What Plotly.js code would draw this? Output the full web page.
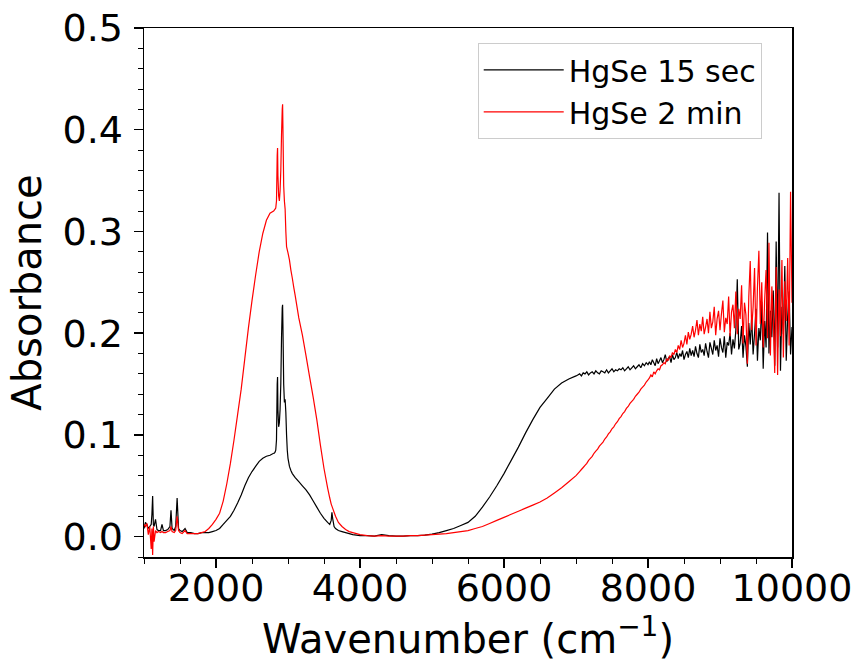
<!DOCTYPE html>
<html>
<head>
<meta charset="utf-8">
<script src="https://cdn.plot.ly/plotly-3.0.1.min.js"></script>
<style>html,body{margin:0;padding:0;background:#fff;}#chart{width:858px;height:662px;}</style>
</head>
<body>
<div id="chart"></div>
<script>
// ---- Data (wavenumber in cm^-1, absorbance) ----
// Low-wavenumber region with sharp bands
const wnLow = [1000,1020,1040,1060,1080,1100,1110,1120,1130,1140,1160,1180,1200,1230,1250,1270,1300,1330,1360,1375,1390,1420,1440,1460,1480,1500,1530,1570,1600,1650,1700,1750,1800];
const abs15Low = [0.008,0.014,0.012,0.008,0.010,0.012,0.022,0.040,0.012,0.010,0.017,0.007,0.006,0.006,0.012,0.006,0.006,0.007,0.010,0.026,0.008,0.006,0.010,0.038,0.008,0.006,0.005,0.008,0.004,0.004,0.003,0.003,0.004];
const abs2Low = [0.012,0.010,0.013,0.002,0.010,-0.012,0.008,-0.018,0.010,-0.005,0.006,0.004,0.005,0.004,0.005,0.004,0.004,0.005,0.006,0.010,0.005,0.004,0.006,0.020,0.006,0.004,0.003,0.006,0.003,0.003,0.003,0.003,0.004];

// Rising edge of the mid-IR band
const wnRise = [1850,1900,1950,2000,2050,2100,2150,2200,2250,2300,2350,2400,2450,2500,2550,2600,2650,2700,2750,2800];
const abs15Rise = [0.004,0.004,0.005,0.006,0.008,0.012,0.016,0.020,0.026,0.033,0.041,0.050,0.058,0.064,0.069,0.074,0.077,0.079,0.080,0.082];
const abs2Rise = [0.005,0.008,0.012,0.017,0.023,0.035,0.052,0.072,0.095,0.120,0.145,0.175,0.205,0.232,0.257,0.280,0.298,0.311,0.318,0.320];

// C-H stretch peaks
const wnPeak = [2810,2820,2830,2840,2850,2855,2860,2870,2880,2890,2900,2910,2920,2925,2930,2940,2950,2960,2970,2980,2990,3000,3020,3040,3060,3080,3100];
const abs15Peak = [0.082,0.083,0.085,0.095,0.150,0.157,0.125,0.108,0.112,0.125,0.150,0.195,0.225,0.228,0.205,0.150,0.132,0.135,0.122,0.100,0.085,0.077,0.069,0.065,0.062,0.060,0.058];
const abs2Peak = [0.321,0.322,0.323,0.330,0.375,0.382,0.355,0.335,0.330,0.340,0.360,0.395,0.420,0.425,0.400,0.345,0.330,0.322,0.300,0.285,0.282,0.279,0.272,0.262,0.254,0.245,0.237];

// Falling edge
const wnFall = [3150,3200,3250,3300,3350,3400,3450,3500,3550,3580,3600,3610,3620,3640,3660,3700,3750,3800,3850,3900,3950,4000];
const abs15Fall = [0.054,0.050,0.046,0.041,0.035,0.029,0.023,0.018,0.014,0.012,0.016,0.024,0.018,0.010,0.008,0.006,0.005,0.004,0.003,0.002,0.0015,0.001];
const abs2Fall = [0.215,0.198,0.178,0.157,0.137,0.115,0.090,0.067,0.048,0.038,0.032,0.030,0.028,0.024,0.020,0.014,0.010,0.007,0.005,0.004,0.003,0.002];

// Baseline and interband absorption edge
const wnEdge = [4100,4200,4300,4400,4500,4600,4700,4800,4900,5000,5100,5200,5300,5400,5500,5600,5700,5800,5900,6000,6100,6200,6300,6400,6500,6600,6700,6800,6900,7000];
const abs15Edge = [0.001,0.0005,0.002,0.001,0.0005,0.0005,0.001,0.001,0.0015,0.0025,0.004,0.006,0.008,0.011,0.014,0.020,0.029,0.039,0.050,0.062,0.075,0.088,0.102,0.115,0.127,0.136,0.145,0.151,0.155,0.158];
const abs2Edge = [0.001,0.0005,0.001,0.0005,0.0005,0.0005,0.001,0.001,0.0015,0.002,0.0025,0.003,0.004,0.005,0.006,0.008,0.010,0.013,0.016,0.019,0.022,0.025,0.028,0.031,0.034,0.038,0.043,0.048,0.054,0.060];

// Plateau region
const wnPlateau = [7025,7050,7075,7100,7125,7150,7175,7200,7225,7250,7275,7300,7325,7350,7375,7400,7425,7450,7475,7500,7525,7550,7575,7600,7625,7650,7675,7700,7725,7750,7775,7800,7825,7850,7875,7900,7925,7950,7975,8000];
const abs15Plateau = [0.159,0.160,0.158,0.161,0.160,0.162,0.159,0.161,0.162,0.160,0.163,0.161,0.160,0.163,0.162,0.161,0.164,0.161,0.163,0.165,0.162,0.164,0.163,0.165,0.164,0.166,0.163,0.165,0.167,0.164,0.166,0.168,0.165,0.167,0.169,0.166,0.170,0.168,0.171,0.169];
const abs2Plateau = [0.062,0.064,0.066,0.068,0.070,0.072,0.075,0.077,0.079,0.082,0.084,0.086,0.089,0.091,0.093,0.096,0.098,0.101,0.103,0.106,0.108,0.111,0.113,0.116,0.118,0.121,0.123,0.126,0.128,0.131,0.133,0.135,0.138,0.140,0.142,0.145,0.147,0.149,0.152,0.154];

// Noisy near-IR end
const wnNoisy = [8020,8040,8060,8080,8100,8120,8140,8160,8180,8200,
  8220,8240,8260,8280,8300,8320,8340,8360,8380,8400,
  8420,8440,8460,8480,8500,8520,8540,8560,8580,8600,
  8620,8640,8660,8680,8700,8720,8740,8760,8780,8800,
  8820,8840,8860,8880,8900,8920,8940,8960,8980,9000,
  9020,9040,9060,9080,9100,9120,9140,9160,9180,9200,
  9220,9240,9260,9280,9300,9320,9340,9360,9380,9400,
  9420,9440,9460,9480,9500,9520,9540,9560,9580,9600,
  9620,9640,9660,9680,9700,9720,9740,9760,9780,9800,
  9820,9840,9860,9880,9900,9920,9940,9960,9980,10000];
const abs15Noisy = [0.172,0.169,0.174,0.171,0.168,0.175,0.170,0.173,0.176,0.171,
  0.174,0.179,0.172,0.175,0.177,0.171,0.179,0.174,0.176,0.181,
  0.175,0.180,0.177,0.183,0.174,0.179,0.182,0.176,0.185,0.178,
  0.183,0.177,0.187,0.180,0.176,0.189,0.181,0.184,0.178,0.190,
  0.182,0.176,0.191,0.185,0.179,0.193,0.183,0.188,0.177,0.195,
  0.186,0.181,0.197,0.176,0.191,0.188,0.200,0.179,0.194,0.185,
  0.203,0.253,0.184,0.190,0.207,0.176,0.198,0.187,0.167,0.210,
  0.189,0.216,0.179,0.200,0.224,0.173,0.205,0.193,0.231,0.165,
  0.212,0.186,0.299,0.180,0.222,0.196,0.242,0.168,0.290,0.186,
  0.338,0.163,0.226,0.199,0.266,0.173,0.216,0.241,0.179,0.206];
const abs2Noisy = [0.156,0.159,0.157,0.162,0.160,0.163,0.165,0.164,0.168,0.169,
  0.171,0.170,0.175,0.173,0.178,0.176,0.181,0.179,0.184,0.181,
  0.188,0.184,0.193,0.186,0.190,0.198,0.189,0.201,0.194,0.199,
  0.207,0.196,0.203,0.213,0.198,0.209,0.202,0.216,0.199,0.206,
  0.214,0.200,0.221,0.205,0.211,0.226,0.198,0.214,0.222,0.203,
  0.219,0.232,0.201,0.215,0.209,0.236,0.197,0.221,0.228,0.205,
  0.241,0.199,0.224,0.214,0.247,0.190,0.230,0.218,0.170,0.236,
  0.271,0.203,0.226,0.264,0.188,0.245,0.281,0.209,0.250,0.186,
  0.232,0.262,0.195,0.289,0.178,0.246,0.215,0.161,0.265,0.159,
  0.243,0.197,0.272,0.176,0.251,0.212,0.274,0.188,0.339,0.230];

const seriesNames = ['HgSe 15 sec', 'HgSe 2 min'];
const seriesColors = ['#000000', '#ff0000'];

const wavenumber = [].concat(wnLow, wnRise, wnPeak, wnFall, wnEdge, wnPlateau, wnNoisy);
const abs15sec = [].concat(abs15Low, abs15Rise, abs15Peak, abs15Fall, abs15Edge, abs15Plateau, abs15Noisy);
const abs2min = [].concat(abs2Low, abs2Rise, abs2Peak, abs2Fall, abs2Edge, abs2Plateau, abs2Noisy);

const traces = [
  {x: wavenumber, y: abs15sec, name: seriesNames[0], type: 'scatter', mode: 'lines',
   line: {color: seriesColors[0], width: 1.2, simplify: false}},
  {x: wavenumber, y: abs2min, name: seriesNames[1], type: 'scatter', mode: 'lines',
   line: {color: seriesColors[1], width: 1.2, simplify: false}}
];

const axisCommon = {
  ticks: 'outside', ticklen: 9, tickwidth: 1.5, tickcolor: '#000',
  showline: true, linewidth: 1.5, linecolor: '#000', mirror: true,
  showgrid: false, zeroline: false,
  tickfont: {size: 38, color: '#000', family: 'DejaVu Sans'}
};

const layout = {
  width: 858, height: 662,
  margin: {l: 144, r: 66, t: 28, b: 105},
  paper_bgcolor: '#fff', plot_bgcolor: '#fff',
  font: {family: 'DejaVu Sans', color: '#000'},
  showlegend: true,
  xaxis: Object.assign({}, axisCommon, {
    range: [1000, 10000], tick0: 0, dtick: 2000, tickformat: 'd',
    ticklabelstandoff: -12,
    minor: {tick0: 0, dtick: 500, ticks: 'outside', ticklen: 5, tickwidth: 1, tickcolor: '#000', showgrid: false},
    title: {text: 'Wavenumber (cm<sup>−1</sup>)', font: {size: 40, color: '#000'}, standoff: 20}
  }),
  yaxis: Object.assign({}, axisCommon, {
    range: [-0.02, 0.5], tick0: 0, dtick: 0.1, tickformat: '.1f',
    ticklabelstandoff: 3,
    minor: {tick0: 0, dtick: 0.02, ticks: 'outside', ticklen: 5, tickwidth: 1, tickcolor: '#000', showgrid: false},
    title: {text: 'Absorbance', font: {size: 40, color: '#000'}, standoff: 8}
  }),
  legend: {
    x: 0.515, y: 0.972, xanchor: 'left', yanchor: 'top',
    bgcolor: '#fff', bordercolor: '#cccccc', borderwidth: 1,
    itemwidth: 80,
    font: {size: 30, color: '#000', family: 'DejaVu Sans'}
  }
};

Plotly.newPlot('chart', traces, layout, {staticPlot: true, displayModeBar: false});
</script>
</body>
</html>
